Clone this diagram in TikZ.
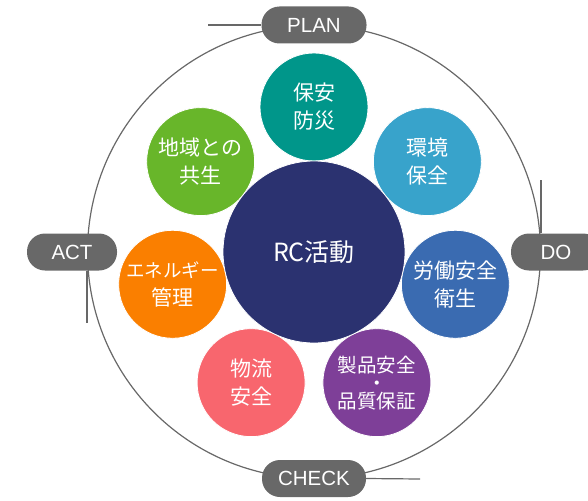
\documentclass[tikz,border=0pt]{standalone}
\usepackage{fontspec}
\usetikzlibrary{calc}
\setmainfont{Liberation Sans}
\newfontfamily\jp{Noto Sans CJK JP}
\definecolor{cteal}{HTML}{00968A}
\definecolor{clblue}{HTML}{38A3CB}
\definecolor{cblue}{HTML}{3A6BB1}
\definecolor{cpurple}{HTML}{7E3F98}
\definecolor{ccoral}{HTML}{F8666E}
\definecolor{corange}{HTML}{FA7F00}
\definecolor{cgreen}{HTML}{68B62A}
\definecolor{cnavy}{HTML}{2B3270}
\definecolor{cgray}{HTML}{686868}
\begin{document}
\begin{tikzpicture}[x=1pt,y=-1pt,
  ring/.style={draw=cgray,line width=1.2pt},
  tick/.style={draw=cgray,line width=1.2pt},
  pill/.style={fill=cgray,rounded corners=18pt,minimum height=37pt,inner sep=0pt,
    text=white,font=\fontsize{20.5}{22}\selectfont},
  topic/.style={circle,fill=#1,draw=white,line width=0.8pt,minimum size=108pt,inner sep=0pt,
    text=white,align=center,font=\jp\fontsize{21}{28}\selectfont},
  hub/.style={circle,fill=cnavy,draw=white,line width=0.8pt,minimum size=182pt,inner sep=0pt,
    text=white,font=\jp\fontsize{25}{28}\selectfont}]
\useasboundingbox (0,0) rectangle (588,500);
\coordinate (c) at (314,252);
\draw[ring] (c) circle[radius=226.5];
% tangent strokes
\coordinate (planend) at (208,25);
\coordinate (checkend) at (420,479);
\coordinate (doend) at (541,180);
\coordinate (actend) at (87,323);
\node[pill,minimum width=105pt] (plan) at (314,25) {PLAN};
\node[pill,minimum width=104pt] (check) at (314,478.5) {CHECK};
\node[pill,minimum width=90pt] (do) at (556,252) {DO};
\node[pill,minimum width=90pt] (act) at (72,252) {ACT};
\draw[tick] (planend) -- (plan.west);
\draw[tick] (check.east) -- (checkend);
\draw[tick] (doend) -- (do.north -| doend);
\draw[tick] (act.south -| actend) -- (actend);
% topics
\node[topic=cteal]   (t1) at ($(c)+(-90:145)$)     {保安\\防災};
\node[topic=clblue]  (t2) at ($(c)+(-38.57:145)$)  {環境\\保全};
\node[topic=cblue]   (t3) at ($(c)+(12.86:145)$)   {労働安全\\衛生};
\node[topic=cpurple,font=\jp\fontsize{19.5}{28}\selectfont] (t4) at ($(c)+(64.29:145)$)   {製品安全\\[-10pt]・\\[-10pt]品質保証};
\node[topic=ccoral]  (t5) at ($(c)+(115.71:145)$)  {物流\\安全};
\node[topic=corange] (t6) at ($(c)+(167.14:145)$)  {{\fontsize{18.5}{28}\selectfont エネルギー}\\管理};
\node[topic=cgreen]  (t7) at ($(c)+(-141.43:145)$) {地域との\\共生};
\node[hub] (hub) at (c) {RC活動};
\end{tikzpicture}
\end{document}
